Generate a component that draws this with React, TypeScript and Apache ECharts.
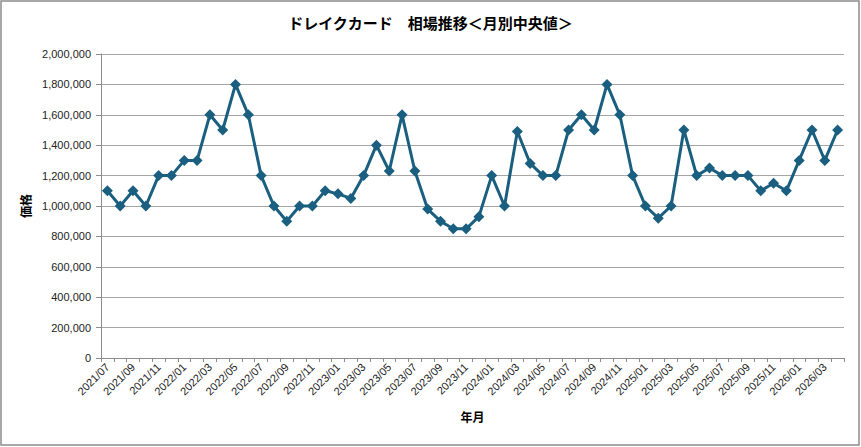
import React, { useEffect, useRef } from "react";
import * as echarts from "echarts";

// Monthly median prices, 2021/07 – 2026/04
const months: string[] = [
  "2021/07", "2021/08", "2021/09", "2021/10", "2021/11", "2021/12",
  "2022/01", "2022/02", "2022/03", "2022/04", "2022/05", "2022/06",
  "2022/07", "2022/08", "2022/09", "2022/10", "2022/11", "2022/12",
  "2023/01", "2023/02", "2023/03", "2023/04", "2023/05", "2023/06",
  "2023/07", "2023/08", "2023/09", "2023/10", "2023/11", "2023/12",
  "2024/01", "2024/02", "2024/03", "2024/04", "2024/05", "2024/06",
  "2024/07", "2024/08", "2024/09", "2024/10", "2024/11", "2024/12",
  "2025/01", "2025/02", "2025/03", "2025/04", "2025/05", "2025/06",
  "2025/07", "2025/08", "2025/09", "2025/10", "2025/11", "2025/12",
  "2026/01", "2026/02", "2026/03", "2026/04",
];

const medianPrices: number[] = [
  1100000, 1000000, 1100000, 1000000, 1200000, 1200000,
  1300000, 1300000, 1600000, 1500000, 1800000, 1600000,
  1200000, 1000000, 900000, 1000000, 1000000, 1100000,
  1080000, 1050000, 1200000, 1400000, 1230000, 1600000,
  1230000, 980000, 900000, 850000, 850000, 930000,
  1200000, 1000000, 1490000, 1280000, 1200000, 1200000,
  1500000, 1600000, 1500000, 1800000, 1600000, 1200000,
  1000000, 920000, 1000000, 1500000, 1200000, 1250000,
  1200000, 1200000, 1200000, 1100000, 1150000, 1100000,
  1300000, 1500000, 1300000, 1500000,
];

const titleText = "ドレイクカード　相場推移＜月別中央値＞";
const yAxisName = "価格";
const xAxisName = "年月";

const cjk = '"Noto Sans CJK JP", "Noto Sans", sans-serif';
const latin = '"Liberation Sans", Arial, sans-serif';

export default function App() {
  const ref = useRef<HTMLDivElement | null>(null);

  useEffect(() => {
    document.body.style.margin = "0";
    if (!ref.current) return;
    const chart = echarts.init(ref.current, null, { renderer: "svg" });
    chart.setOption({
      animation: false,
      backgroundColor: "#ffffff",
      title: {
        text: titleText,
        left: "center",
        top: 10,
        textStyle: {
          fontFamily: cjk,
          fontSize: 15,
          fontWeight: "bold",
          color: "#000000",
        },
      },
      graphic: [
        {
          type: "rect",
          shape: { x: 1, y: 1, width: 858, height: 444 },
          style: { fill: "none", stroke: "#8c8c8c", lineWidth: 1.5 },
          silent: true,
        },
      ],
      grid: { left: 101, right: 17, top: 54, bottom: 89 },
      xAxis: {
        type: "category",
        data: months,
        boundaryGap: true,
        name: xAxisName,
        nameLocation: "middle",
        nameGap: 52,
        nameTextStyle: {
          fontFamily: cjk,
          fontSize: 12,
          fontWeight: "bold",
          color: "#000000",
        },
        axisLine: { lineStyle: { color: "#8c8c8c", width: 1 } },
        axisTick: { show: true, length: 4, interval: 0, lineStyle: { color: "#8c8c8c" } },
        axisLabel: {
          interval: 1,
          rotate: 45,
          margin: 7,
          fontFamily: latin,
          fontSize: 11,
          color: "#222222",
        },
        splitLine: { show: false },
      },
      yAxis: {
        type: "value",
        min: 0,
        max: 2000000,
        interval: 200000,
        name: yAxisName,
        nameLocation: "middle",
        nameGap: 69,
        nameRotate: 90,
        nameTextStyle: {
          fontFamily: cjk,
          fontSize: 12,
          fontWeight: "bold",
          color: "#000000",
        },
        axisLine: { show: true, lineStyle: { color: "#8c8c8c", width: 1 } },
        axisTick: { show: true, length: 5, lineStyle: { color: "#8c8c8c" } },
        axisLabel: {
          margin: 10,
          fontFamily: latin,
          fontSize: 11,
          color: "#222222",
          formatter: (v: number) => v.toLocaleString("en-US"),
        },
        splitLine: { show: true, lineStyle: { color: "#a6a6a6", width: 1 } },
      },
      series: [
        {
          type: "line",
          data: medianPrices,
          symbol: "diamond",
          symbolSize: 11,
          showAllSymbol: true,
          lineStyle: { color: "#1a5f7f", width: 3 },
          itemStyle: { color: "#1a5f7f" },
        },
      ],
    });
    return () => chart.dispose();
  }, []);

  return <div ref={ref} style={{ width: 861, height: 447 }} />;
}
